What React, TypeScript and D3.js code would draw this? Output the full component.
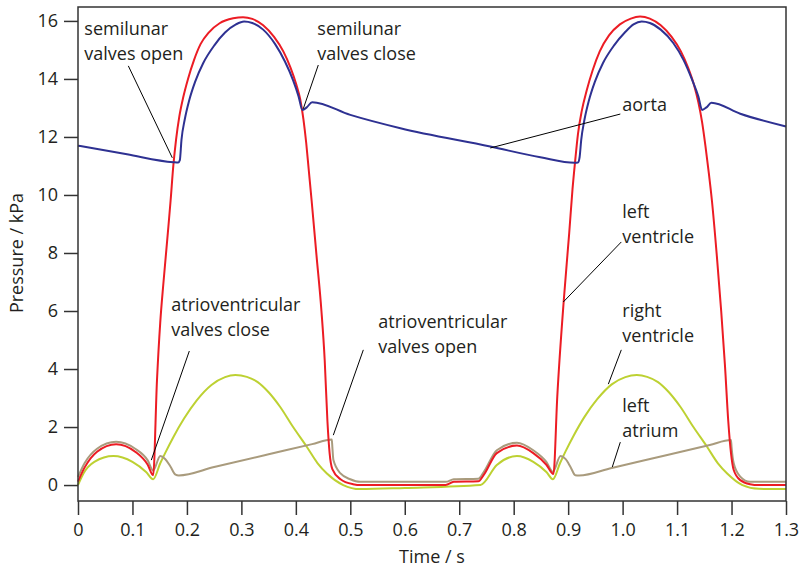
import React, { useEffect, useRef } from 'react';
import * as d3 from 'd3';

// [time (s), pressure (kPa)]
const aorta: [number, number][] = [
  [0, 11.7], [0.09, 11.4], [0.175, 11.13], [0.184, 11.12], [0.187, 11.2],
  [0.19, 11.9], [0.196, 12.6], [0.204, 13.25], [0.215, 13.9], [0.23, 14.55],
  [0.25, 15.15], [0.27, 15.6], [0.29, 15.88], [0.305, 15.98], [0.32, 15.93],
  [0.34, 15.7], [0.362, 15.2], [0.38, 14.6], [0.395, 13.95], [0.405, 13.4],
  [0.412, 12.93], [0.42, 13.02], [0.43, 13.2], [0.5, 12.76], [0.592, 12.3],
  [0.757, 11.67], [0.849, 11.3], [0.912, 11.11], [0.918, 11.12], [0.921, 11.3],
  [0.924, 11.9], [0.93, 12.6], [0.938, 13.25], [0.949, 13.9], [0.964, 14.55],
  [0.984, 15.15], [1.004, 15.6], [1.02, 15.88], [1.035, 15.98], [1.05, 15.93],
  [1.07, 15.7], [1.093, 15.24], [1.112, 14.65], [1.127, 14.0], [1.139, 13.4],
  [1.146, 12.93], [1.154, 13.02], [1.163, 13.18], [1.216, 12.8], [1.3, 12.36],
];

const leftVentricle: [number, number][] = [
  [0, 0.12], [0.012, 0.6], [0.035, 1.15], [0.07, 1.41], [0.105, 1.15],
  [0.128, 0.7], [0.138, 0.34], [0.145, 3.6], [0.151, 5.6], [0.157, 7.0],
  [0.165, 8.7], [0.17, 9.8], [0.175, 11.0], [0.18, 11.9], [0.186, 12.7],
  [0.193, 13.35], [0.202, 14.0], [0.213, 14.65], [0.225, 15.2], [0.24, 15.6],
  [0.26, 15.92], [0.285, 16.09], [0.303, 16.13], [0.32, 16.07], [0.34, 15.85],
  [0.36, 15.45], [0.377, 14.95], [0.39, 14.4], [0.401, 13.8], [0.408, 13.3],
  [0.414, 12.6], [0.419, 11.8], [0.424, 10.8], [0.429, 9.8], [0.438, 7.9],
  [0.447, 6.0], [0.453, 4.3], [0.458, 2.2], [0.462, 1.1], [0.467, 0.55],
  [0.482, 0.2], [0.505, 0.03], [0.52, 0.0], [0.675, 0.0], [0.69, 0.11],
  [0.735, 0.13], [0.745, 0.35], [0.769, 1.1], [0.806, 1.36], [0.836, 1.1],
  [0.86, 0.7], [0.873, 0.38], [0.88, 3.04], [0.892, 6.38], [0.902, 8.7],
  [0.908, 10.2], [0.913, 11.2], [0.918, 12.1], [0.925, 12.9], [0.934, 13.6],
  [0.945, 14.3], [0.958, 14.95], [0.975, 15.5], [0.995, 15.88], [1.015, 16.08],
  [1.032, 16.15], [1.05, 16.08], [1.07, 15.85], [1.09, 15.45], [1.107, 14.95],
  [1.12, 14.4], [1.131, 13.8], [1.139, 13.2], [1.146, 12.5], [1.152, 11.7],
  [1.158, 10.8], [1.164, 9.8], [1.173, 7.9], [1.181, 6.0], [1.188, 4.1],
  [1.194, 2.2], [1.199, 1.1], [1.204, 0.52], [1.216, 0.17], [1.234, 0.03],
  [1.25, 0.0], [1.3, 0.0],
];

const leftAtrium: [number, number][] = [
  [0, 0.28], [0.012, 0.75], [0.035, 1.25], [0.07, 1.49], [0.105, 1.25],
  [0.128, 0.85], [0.138, 0.5], [0.151, 1.0], [0.16, 0.9], [0.17, 0.63],
  [0.179, 0.36], [0.185, 0.33], [0.25, 0.62], [0.35, 1.06], [0.43, 1.41],
  [0.466, 1.57], [0.467, 1.32], [0.469, 0.86], [0.482, 0.4], [0.5, 0.2],
  [0.518, 0.11], [0.675, 0.11], [0.69, 0.2], [0.735, 0.22], [0.745, 0.45],
  [0.769, 1.2], [0.806, 1.46], [0.836, 1.2], [0.86, 0.8], [0.872, 0.46],
  [0.886, 1.0], [0.895, 0.9], [0.905, 0.6], [0.913, 0.34], [0.92, 0.33],
  [0.98, 0.59], [1.08, 1.03], [1.16, 1.38], [1.199, 1.55], [1.2, 1.32],
  [1.204, 0.75], [1.216, 0.29], [1.234, 0.11], [1.3, 0.11],
];

const rightVentricle: [number, number][] = [
  [0, 0.0], [0.01, 0.4], [0.03, 0.8], [0.065, 1.0], [0.1, 0.8],
  [0.125, 0.45], [0.138, 0.2], [0.151, 0.75], [0.16, 1.1], [0.175, 1.65],
  [0.195, 2.3], [0.218, 2.92], [0.245, 3.45], [0.27, 3.72], [0.289, 3.79],
  [0.31, 3.73], [0.33, 3.55], [0.35, 3.2], [0.371, 2.7], [0.395, 2.0],
  [0.42, 1.32], [0.44, 0.75], [0.457, 0.4], [0.487, 0.0], [0.518, -0.14],
  [0.6, -0.1], [0.739, 0.0], [0.769, 0.69], [0.806, 1.0], [0.836, 0.8],
  [0.86, 0.45], [0.872, 0.2], [0.885, 0.75], [0.895, 1.15], [0.91, 1.7],
  [0.93, 2.35], [0.953, 2.95], [0.98, 3.47], [1.005, 3.72], [1.026, 3.79],
  [1.045, 3.73], [1.065, 3.55], [1.085, 3.2], [1.106, 2.7], [1.13, 2.0],
  [1.155, 1.32], [1.175, 0.75], [1.192, 0.4], [1.22, 0.0], [1.25, -0.13],
  [1.3, -0.14],
];

const xTicks = [0, 0.1, 0.2, 0.3, 0.4, 0.5, 0.6, 0.7, 0.8, 0.9, 1.0, 1.1, 1.2, 1.3];
const yTicks = [0, 2, 4, 6, 8, 10, 12, 14, 16];

// labels: text anchor (t, p) and leader line from -> to, in data units
const notes = [
  { lines: ['semilunar', 'valves open'], at: [0.0116, 15.52], from: [0.0924, 14.45], to: [0.1732, 11.28] },
  { lines: ['semilunar', 'valves close'], at: [0.4394, 15.52], from: [0.4412, 14.48], to: [0.4136, 12.97] },
  { lines: ['aorta'], at: [0.9994, 12.9], from: [0.9958, 12.79], to: [0.757, 11.62] },
  { lines: ['left', 'ventricle'], at: [0.9994, 9.21], from: [0.9976, 8.38], to: [0.891, 6.31] },
  { lines: ['right', 'ventricle'], at: [0.9994, 5.79], from: [0.9976, 4.66], to: [0.9738, 3.48] },
  { lines: ['left', 'atrium'], at: [0.9994, 2.52], from: [0.9958, 1.48], to: [0.981, 0.62] },
  { lines: ['atrioventricular', 'valves close'], at: [0.1713, 6.0], from: [0.2044, 4.62], to: [0.1346, 0.86] },
  { lines: ['atrioventricular', 'valves open'], at: [0.5514, 5.41], from: [0.5239, 4.66], to: [0.4688, 1.72] },
];

const series = [
  { name: 'right ventricle', data: rightVentricle, color: '#bdd132' },
  { name: 'left atrium', data: leftAtrium, color: '#a99b7d' },
  { name: 'left ventricle', data: leftVentricle, color: '#ec1c24' },
  { name: 'aorta', data: aorta, color: '#2e3192' },
];

const font = '"Open Sans", sans-serif';
const ink = '#231f20';

const App = () => {
  const width = 799;
  const height = 572;
  const margin = { top: 7, right: 13, bottom: 71, left: 78 };

  const xScale = d3.scaleLinear().domain([0, 1.3]).range([margin.left, width - margin.right]);
  const yScale = d3.scaleLinear().domain([-0.55, 16.48]).range([height - margin.bottom, margin.top]);

  const xRef = useRef<SVGGElement>(null);
  const yRef = useRef<SVGGElement>(null);

  useEffect(() => {
    const xAxis = d3
      .axisBottom(xScale)
      .tickValues(xTicks)
      .tickSize(14)
      .tickSizeOuter(0)
      .tickPadding(8)
      .tickFormat(d => (+d === 0 ? '0' : (+d).toFixed(1)));
    const yAxis = d3
      .axisLeft(yScale)
      .tickValues(yTicks)
      .tickSize(14)
      .tickSizeOuter(0)
      .tickPadding(6)
      .tickFormat(d => String(d));

    [
      [xRef.current, xAxis],
      [yRef.current, yAxis],
    ].forEach(([node, axis]: any) => {
      const g = d3.select(node);
      g.call(axis);
      g.attr('font-family', font).attr('font-size', 18);
      g.select('.domain').remove();
      g.selectAll('.tick line').attr('stroke', '#333').attr('stroke-width', 1.5);
      g.selectAll('.tick text').attr('fill', ink);
    });
  }, []);

  const line = d3
    .line<[number, number]>()
    .x(d => xScale(d[0]))
    .y(d => yScale(d[1]))
    .curve(d3.curveMonotoneX);

  const x0 = xScale(0);
  const x1 = xScale(1.3);
  const yTop = margin.top;
  const yBot = height - margin.bottom;

  return (
    <svg
      width={width}
      height={height}
      viewBox={`0 0 ${width} ${height}`}
      style={{ position: 'absolute', left: 0, top: 0, background: '#fff' }}
    >
      {series.map(s => (
        <path key={s.name} d={line(s.data) || ''} fill='none' stroke={s.color} strokeWidth={2} />
      ))}

      <rect x={x0} y={yTop} width={x1 - x0} height={yBot - yTop} fill='none' stroke='#333' strokeWidth={1.5} />

      <g id='xAxisG' ref={xRef} transform={`translate(0, ${yBot})`} />
      <g id='yAxisG' ref={yRef} transform={`translate(${x0}, 0)`} />

      {notes.map((n, i) => (
        <g key={`note-${i}`}>
          <line
            x1={xScale(n.from[0])}
            y1={yScale(n.from[1])}
            x2={xScale(n.to[0])}
            y2={yScale(n.to[1])}
            stroke='#000'
            strokeWidth={1}
          />
          <text x={xScale(n.at[0])} y={yScale(n.at[1])} fontFamily={font} fontSize={18} fill={ink}>
            {n.lines.map((l, j) => (
              <tspan key={j} x={xScale(n.at[0])} dy={j === 0 ? 0 : 25}>
                {l}
              </tspan>
            ))}
          </text>
        </g>
      ))}

      <text x={(x0 + x1) / 2} y={563} textAnchor='middle' fontFamily={font} fontSize={18} fill={ink}>
        Time / s
      </text>
      <text
        transform={`translate(23, ${yScale(8)}) rotate(-90)`}
        textAnchor='middle'
        fontFamily={font}
        fontSize={18}
        fill={ink}
      >
        Pressure / kPa
      </text>
    </svg>
  );
};

export default App;
